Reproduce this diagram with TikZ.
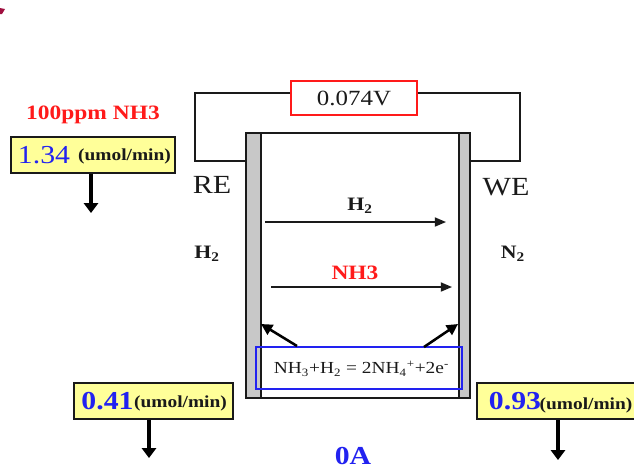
\documentclass[tikz,border=0pt]{standalone}
\usepackage{fontspec}
\setmainfont[FakeStretch=1.15]{Liberation Serif}
\usepackage{xcolor}
\usetikzlibrary{calc,arrows.meta}
\definecolor{bg}{HTML}{FFFFFF}
\definecolor{ink}{HTML}{1A1A1A}
\definecolor{plategray}{HTML}{C8C8C8}
\definecolor{redline}{HTML}{FF1A1A}
\definecolor{blueline}{HTML}{2222F0}
\definecolor{paleyellow}{HTML}{FFFF99}
\definecolor{corner}{HTML}{A01040}
\tikzset{
  wire/.style={draw=ink, line width=1.1pt},
  plate/.style={draw=ink, fill=plategray, line width=1.1pt, minimum height=265*0.711pt, inner sep=0pt},
  flow/.style={draw=ink, line width=1.1pt, -{Triangle[length=8pt,width=6.5pt]}},
  drain/.style={draw=black, line width=2.2pt, -{Triangle[length=7pt,width=10pt]}},
  ratebox/.style={draw=ink, fill=paleyellow, line width=1.1pt, minimum height=36*0.711pt, inner sep=0pt},
  rate/.style={text=blueline, font=\fontsize{18.4}{20}\selectfont},
  rateb/.style={text=blueline, font=\fontsize{18.4}{20}\selectfont\bfseries},
  unit/.style={text=ink, font=\fontsize{12}{14}\selectfont\bfseries},
  lab/.style={text=ink, font=\fontsize{13.5}{15}\selectfont\bfseries},
  elec/.style={text=ink, font=\fontsize{18.6}{20}\selectfont},
  redlab/.style={text=redline, font=\fontsize{14.5}{16}\selectfont\bfseries},
}
\begin{document}
\begin{tikzpicture}[x=0.025cm,y=-0.025cm]
  \useasboundingbox (0,0) rectangle (634,468);
  \fill[corner] (0,8) -- (5,9) -- (2,14) -- (0,14) -- cycle;
  % cell
  \draw[wire] (246,133) -- (470,133);
  \draw[wire] (246,398) -- (470,398);
  \node[plate, minimum width=15*0.711pt] (replate) at (253.5,265.5) {};
  \node[plate, minimum width=11*0.711pt] (weplate) at (464.5,265.5) {};
  % voltage and wires
  \node[draw=redline, fill=bg, line width=1.2pt, minimum width=126*0.711pt, minimum height=34*0.711pt, inner sep=0pt,
    text=ink, font=\fontsize{15.4}{17}\selectfont] (volt) at (354,98) {0.074V};
  \coordinate (rebend) at (195,93);
  \coordinate (webend) at (520,93);
  \coordinate (rejoin) at (246,161);
  \coordinate (wejoin) at (470,161);
  \draw[wire] (volt.west |- rebend) -- (rebend) |- (rejoin);
  \draw[wire] (volt.east |- webend) -- (webend) |- (wejoin);
  % labels
  \node[elec] (relabel) at (212,185) {RE};
  \node[elec] (welabel) at (506,187) {WE};
  \node[lab] (htwo) at (207,254) {H\textsubscript{2}};
  \node[lab] (ntwo) at (513,254) {N\textsubscript{2}};
  \node[lab] (hflow) at (360,206) {H\textsubscript{2}};
  \node[redlab] (nflow) at (355,273) {NH3};
  \node[text=blueline, font=\fontsize{18.4}{20}\selectfont\bfseries] (zeroa) at (353,456) {0A};
  % flows across the cell
  \coordinate (hstart) at (265,222);
  \coordinate (hend) at (446,222);
  \coordinate (nstart) at (271,287);
  \coordinate (nend) at (452,287);
  \draw[flow] (hstart) -- (hend);
  \draw[flow] (nstart) -- (nend);
  % reaction
  \node[draw=blueline, line width=1.2pt, minimum width=206*0.711pt, minimum height=42*0.711pt, inner sep=0pt] (react) at (359,368) {};
  \node[text=ink, font=\fontsize{12}{14}\selectfont] (reacttext) at (361.5,369)
    {NH\textsubscript{3}+H\textsubscript{2} = 2NH\textsubscript{4}\textsuperscript{+}+2e\textsuperscript{-}};
  \coordinate (lstart) at (297,346);
  \coordinate (lend) at (261,324);
  \coordinate (rstart) at (424,347);
  \coordinate (rend) at (458,324);
  \draw[drain, line width=1.8pt, -{Triangle[length=8pt,width=8pt]}] (lstart) -- (lend);
  \draw[drain, line width=1.8pt, -{Triangle[length=8pt,width=8pt]}] (rstart) -- (rend);
  % rates
  \node[redlab] (feed) at (93,115) {100ppm NH3};
  \node[ratebox, minimum width=164*0.711pt] (rateone) at (93,155) {};
  \node[rate] (numone) at (44,155) {1.34};
  \node[unit] (unitone) at (124.5,156) {(umol/min)};
  \node[ratebox, minimum width=159*0.711pt] (ratetwo) at (153.5,401) {};
  \node[rateb] (numtwo) at (107.5,401) {0.41};
  \node[unit] (unittwo) at (180.5,403) {(umol/min)};
  \node[ratebox, minimum width=158*0.711pt] (ratethree) at (556,401) {};
  \node[rateb] (numthree) at (515,401) {0.93};
  \node[unit] (unitthree) at (586,405) {(umol/min)};
  \coordinate (outone) at (91,213);
  \coordinate (outtwo) at (149,458);
  \coordinate (outthree) at (558,460);
  \draw[drain] (outone |- rateone.south) -- (outone);
  \draw[drain] (outtwo |- ratetwo.south) -- (outtwo);
  \draw[drain] (outthree |- ratethree.south) -- (outthree);
\end{tikzpicture}
\end{document}
